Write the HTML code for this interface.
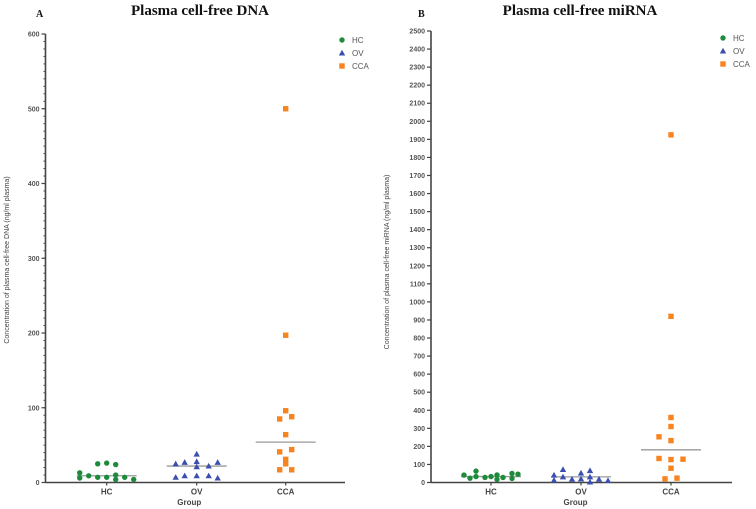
<!DOCTYPE html>
<html><head><meta charset="utf-8"><style>
body{margin:0;background:#fff;}
svg{display:block;font-family:"Liberation Sans",sans-serif;}
.tick{font-size:7px;font-weight:bold;fill:#555;}
.cat{font-size:8px;font-weight:bold;fill:#444;}
.ttl{font-family:"Liberation Serif",serif;font-weight:bold;font-size:15px;fill:#111;}
.lbl{font-family:"Liberation Serif",serif;font-weight:bold;font-size:10px;fill:#111;}
.ytitle{font-size:7px;fill:#444;}
.leg{font-size:8px;fill:#555;}
</style></head><body>
<svg id="svg" width="756" height="509" viewBox="0 0 756 509"></svg>
<script>
const categories = ["HC","OV","CCA"];
const dnaHC = [13,6,9,25,7,26,7,24,10,4,7,4];
const dnaOV = [25,7,27,9,38,28,21,9,22,9,27,6];
const dnaCCA = [85,96,88,64,41,44,31,25,17,17,500,197];
const dnaMedians = [9,22,54];
const mirHC = [41,24,63,33,28,33,42,17,28,50,22,46];
const mirOV = [41,13,72,31,18,52,20,66,31,3,18,11];
const mirCCA = [360,310,253,232,133,127,129,79,20,24,1925,920];
const mirMedians = [33,31,181];
// jitter slot indices (unitless)
const dnaJit = [[-9,-9,-6,-3,-3,0,0,3,3,3,6,9],[-7,-7,-4,-4,0,0,0,0,4,4,7,7],[-2,0,2,0,-2,2,0,0,-2,2,0,0]];
const mirJit = [[-9,-7,-5,-5,-2,0,2,2,4,7,7,9],[-9,-9,-6,-6,-3,0,0,3,3,3,6,9],[0,0,-4,0,-4,0,4,0,-2,2,0,0]];
const dnaTicks = [0,100,200,300,400,500,600];
const mirTicks = [0,100,200,300,400,500,600,700,800,900,1000,1100,1200,1300,1400,1500,1600,1700,1800,1900,2000,2100,2200,2300,2400,2500];
const colors = ["#1e8b3c","#3b4fb0","#f7841f"];
const svg = document.getElementById('svg');
const NS = "http://www.w3.org/2000/svg";
function mk(tag, attrs, parent, text){
  const e = document.createElementNS(NS, tag);
  for (const k in attrs) e.setAttribute(k, attrs[k]);
  if (text !== undefined) e.textContent = text;
  (parent||svg).appendChild(e); return e;
}
function marker(g, shape, x, y, c){
  if (shape===0) return mk('circle',{cx:x,cy:y,r:2.7,fill:c},g);
  if (shape===1) return mk('polygon',{points:`${x},${y-3.2} ${x+3.2},${y+2.5} ${x-3.2},${y+2.5}`,fill:c},g);
  return mk('rect',{x:x-2.7,y:y-2.7,width:5.4,height:5.4,fill:c},g);
}
function panel(o){
  const g = mk('g',{});
  
  
  const y = v => o.y0 - (v - 0) / o.max * (o.y0 - o.yTop);
  const x = i => o.cx[i];
  const t1 = mk('text',{x:o.letterX,y:17,class:'lbl'},g,o.letter);
   
  const t2 = mk('text',{x:o.titleX,y:15,class:'ttl','text-anchor':'middle'},g,o.title);
   
  // axes
  const ya = mk('line',{x1:o.ax,y1:o.yTop,x2:o.ax,y2:o.y0+0.5,stroke:'#444','stroke-width':1.6},g);
   
  const xa = mk('line',{x1:o.ax,y1:o.y0,x2:o.axEnd,y2:o.y0,stroke:'#444','stroke-width':1.6},g);
   
  if (o.minor){
    for (let v=0; v<=o.max; v+=o.minor){
      mk('line',{x1:o.ax-2,y1:y(v),x2:o.ax,y2:y(v),stroke:'#444','stroke-width':1},g);
    }
  }
  o.ticks.forEach(v=>{
    mk('line',{x1:o.ax-4,y1:y(v),x2:o.ax,y2:y(v),stroke:'#444','stroke-width':1.2},g);
    const t = mk('text',{x:o.ax-6,y:y(v)+2.5,class:'tick','text-anchor':'end'},g,String(v));
     
  });
  categories.forEach((c,i)=>{
    mk('line',{x1:x(i),y1:o.y0,x2:x(i),y2:o.y0+3,stroke:'#444','stroke-width':1.2},g);
    const t = mk('text',{x:x(i),y:o.y0+12,class:'cat','text-anchor':'middle'},g,c);
     
  });
  const gx = mk('text',{x:(o.ax+o.axEnd)/2-6,y:505,class:'cat','text-anchor':'middle'},g,'Group');
   
  const yt = mk('text',{x:0,y:0,class:'ytitle','text-anchor':'middle',transform:`translate(${o.ytX},${o.ytY}) rotate(-90)`},g,o.ytitle);
   
  // medians
  o.medians.forEach((m,i)=>{
    const l = mk('line',{x1:x(i)-30,y1:y(m),x2:x(i)+30,y2:y(m),stroke:'#999','stroke-width':1.3},g);
     
  });
  // points
  o.series.forEach((s,i)=>{
    s.forEach((v,j)=>{
      const p = marker(g, i, x(i)+o.jit[i][j]*3, y(v), colors[i]);
      
      
    });
  });
  // legend
  categories.forEach((c,i)=>{
    const ly = o.legY + i*13;
    const m = marker(g, i, o.legX, ly, colors[i]);
     
    const t = mk('text',{x:o.legX+10,y:ly+3,class:'leg'},g,c);
     
  });
}
panel({name:'dna-panel',letter:'A',letterX:36,title:'Plasma cell-free DNA',titleX:200,ax:45.5,axEnd:345,y0:482.5,yTop:34,max:600,
  ticks:dnaTicks,minor:10,cx:[106.7,196.7,285.7],series:[dnaHC,dnaOV,dnaCCA],medians:dnaMedians,jit:dnaJit,
  ytitle:'Concentration of plasma cell-free DNA (ng/ml plasma)',ytX:9,ytY:260,legX:342,legY:40});
panel({name:'mirna-panel',letter:'B',letterX:418,title:'Plasma cell-free miRNA',titleX:580,ax:431,axEnd:732,y0:482.5,yTop:31,max:2500,
  ticks:mirTicks,minor:0,cx:[491,581,671],series:[mirHC,mirOV,mirCCA],medians:mirMedians,jit:mirJit,
  ytitle:'Concentration of plasma cell-free miRNA (ng/ml plasma)',ytX:389,ytY:262,legX:723,legY:38});
</script>
</body></html>
